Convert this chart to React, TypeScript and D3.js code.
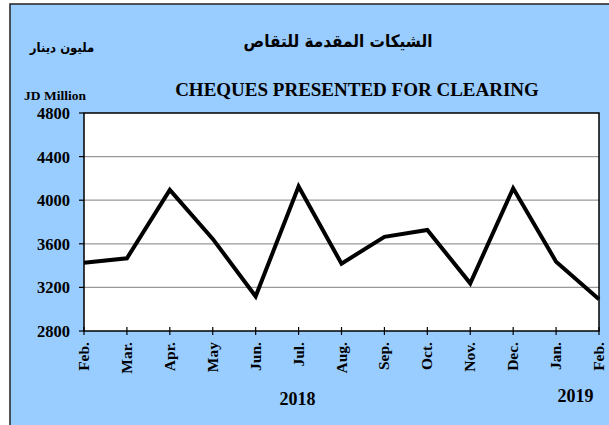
import React from "react";
import * as d3 from "d3";

const months = ["Feb.", "Mar.", "Apr.", "May", "Jun.", "Jul.", "Aug.", "Sep.", "Oct.", "Nov.", "Dec.", "Jan.", "Feb."];
const values = [3427, 3467, 4094, 3645, 3118, 4126, 3418, 3664, 3727, 3237, 4109, 3436, 3091];
const yTicks = [2800, 3200, 3600, 4000, 4400, 4800];
const years = [
  { label: "2018", at: 5 },
  { label: "2019", at: 11.5 },
];

const W = 609;
const H = 425;
const plot = { left: 84, right: 599, top: 113, bottom: 331 };

export default function App() {
  const x = d3
    .scaleLinear()
    .domain([0, months.length - 1])
    .range([plot.left, plot.right]);
  const y = d3.scaleLinear().domain([2800, 4800]).range([plot.bottom, plot.top]);
  const line = d3
    .line<number>()
    .x((_, i) => x(i))
    .y((d) => y(d));
  const serif = "'Liberation Serif', 'Times New Roman', serif";
  const arabic = "'DejaVu Sans Condensed', 'DejaVu Sans', sans-serif";

  return (
    <svg
      width={W}
      height={H}
      style={{ position: "absolute", left: 0, top: 0, background: "#fff" }}
    >
      <rect x={10} y={4} width={W + 10} height={H + 10} fill="#99CCFF" stroke="#222" strokeWidth={1.5} />
      <text x={338} y={47} textAnchor="middle" fontFamily={arabic} fontWeight="bold" fontSize={17} direction="rtl">
        الشيكات المقدمة للتقاص
      </text>
      <text x={62} y={52} textAnchor="middle" fontFamily={arabic} fontWeight="bold" fontSize={13} direction="rtl">
        مليون دينار
      </text>
      <text x={55} y={100} textAnchor="middle" fontFamily={serif} fontWeight="bold" fontSize={13.5}>
        JD Million
      </text>
      <text x={357} y={96} textAnchor="middle" fontFamily={serif} fontWeight="bold" fontSize={19}>
        CHEQUES PRESENTED FOR CLEARING
      </text>
      <rect
        x={plot.left}
        y={plot.top}
        width={plot.right - plot.left}
        height={plot.bottom - plot.top}
        fill="#fff"
      />
      {yTicks.slice(1, -1).map((t) => (
        <line key={t} x1={plot.left} x2={plot.right} y1={y(t)} y2={y(t)} stroke="#999" strokeWidth={1.2} />
      ))}
      <rect
        x={plot.left}
        y={plot.top}
        width={plot.right - plot.left}
        height={plot.bottom - plot.top}
        fill="none"
        stroke="#000"
        strokeWidth={1.5}
      />
      {yTicks.map((t) => (
        <g key={t}>
          <line x1={plot.left - 5} x2={plot.left} y1={y(t)} y2={y(t)} stroke="#000" strokeWidth={1.2} />
          <text x={70} y={y(t) + 6} textAnchor="end" fontFamily={serif} fontWeight="bold" fontSize={16.5}>
            {t}
          </text>
        </g>
      ))}
      {months.map((m, i) => (
        <g key={i}>
          <line x1={x(i)} x2={x(i)} y1={plot.bottom - 4} y2={plot.bottom + 4} stroke="#000" strokeWidth={1.2} />
          <text
            transform={`translate(${x(i) + 5},${plot.bottom + 11}) rotate(-90)`}
            textAnchor="end"
            fontFamily={serif}
            fontWeight="bold"
            fontSize={15.5}
          >
            {m}
          </text>
        </g>
      ))}
      {years.map((yr) => (
        <text
          key={yr.label}
          x={yr.label === "2018" ? x(yr.at) - 1 : x(yr.at) - 2}
          y={yr.label === "2018" ? 405 : 402}
          textAnchor="middle"
          fontFamily={serif}
          fontWeight="bold"
          fontSize={18}
        >
          {yr.label}
        </text>
      ))}
      <path d={line(values) || ""} fill="none" stroke="#000" strokeWidth={4} strokeLinejoin="miter" />
    </svg>
  );
}
